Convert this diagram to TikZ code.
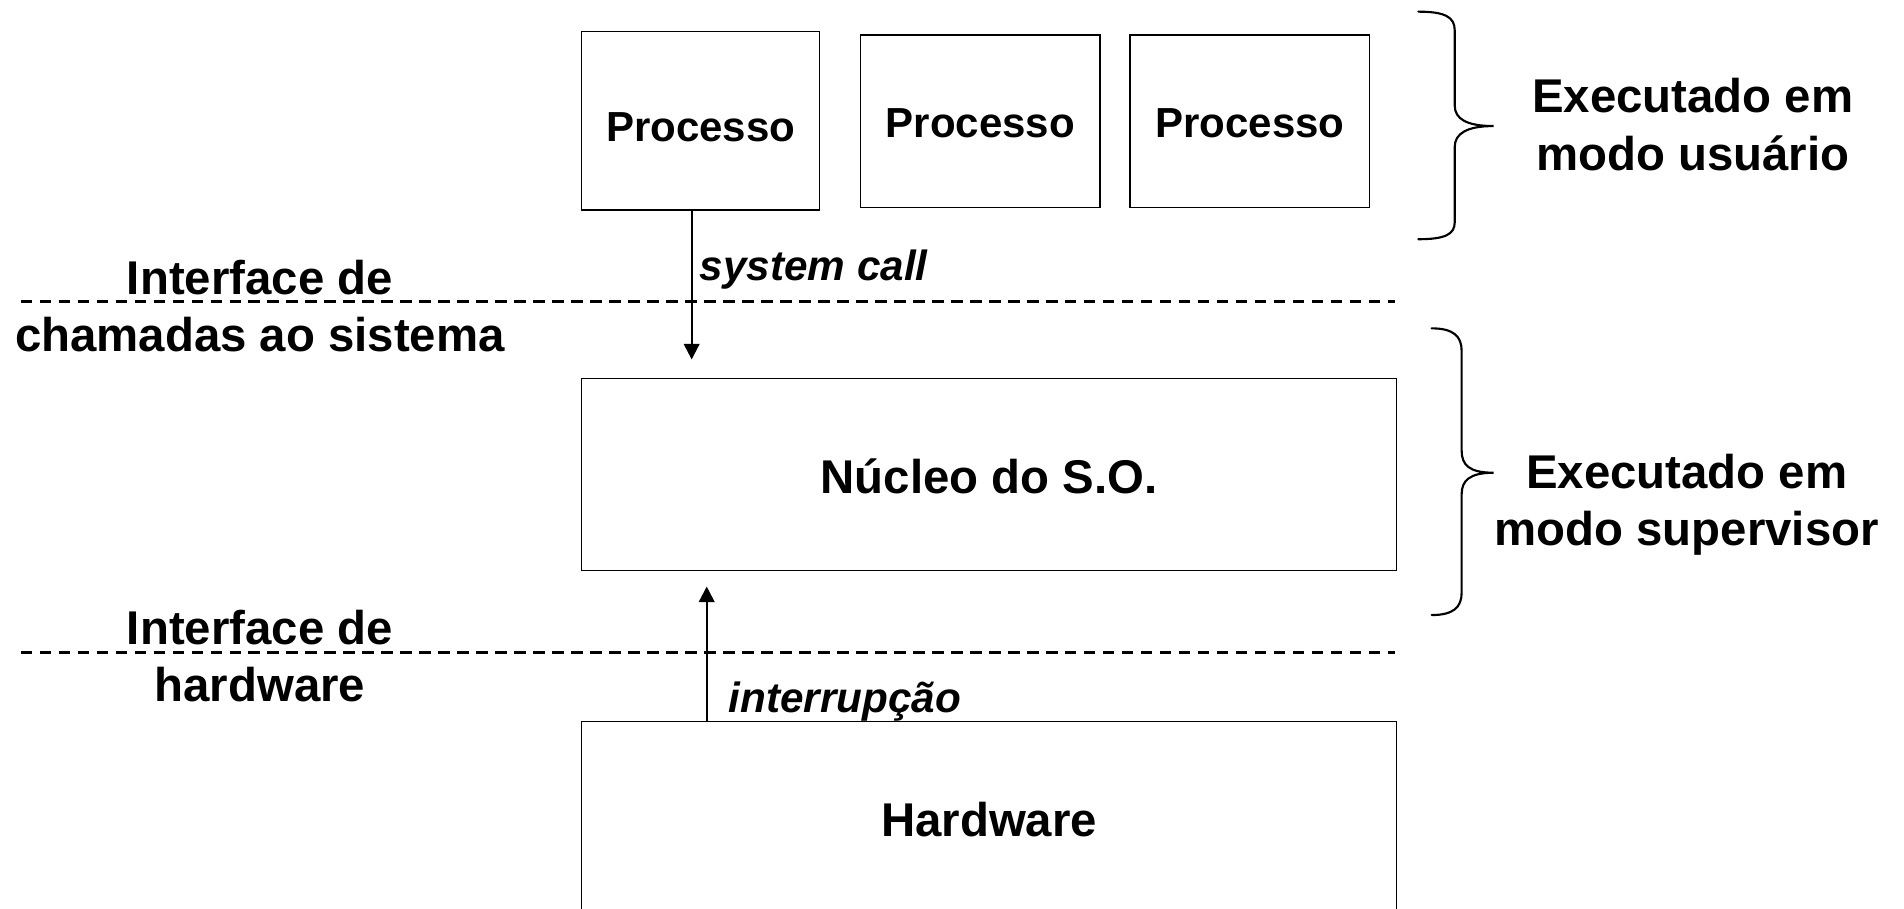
\documentclass[tikz,border=0pt]{standalone}
\usepackage{fontspec}
\setmainfont{Liberation Sans}
\usetikzlibrary{arrows.meta}
\begin{document}
\begin{tikzpicture}[x=0.02cm,y=-0.02cm,
  big/.style={font=\fontsize{22.2}{26.8}\selectfont\bfseries},
  small/.style={font=\fontsize{19.7}{24}\selectfont\bfseries},
  ital/.style={font=\fontsize{19.8}{24}\selectfont\bfseries\itshape, inner sep=0pt},
  procbox/.style={draw, line width=0.55pt, inner sep=0pt, small, text depth=0pt},
  bigbox/.style={draw, line width=0.55pt, inner sep=0pt, big, text depth=0pt},
  arr/.style={line width=1pt, -{Triangle[length=7.3pt,width=7.3pt]}},
  iface/.style={line width=1.35pt, dash pattern=on 5.4pt off 3.5pt},
  brace/.style={line width=1pt, line cap=round},
  lab/.style={big, align=center, inner sep=0pt}]
\useasboundingbox (0,0) rectangle (1568,748);

% process boxes
\node[procbox, minimum width=3.92cm, minimum height=2.94cm, text height=19.5pt] (p1) at (577,99.5) {Processo};
\node[procbox, minimum width=3.94cm, minimum height=2.84cm, text height=15pt] (p2) at (807.4,99.75) {Processo};
\node[procbox, minimum width=3.95cm, minimum height=2.84cm, text height=15pt] (p3) at (1029.3,99.75) {Processo};

% kernel and hardware
\node[bigbox, minimum width=13.42cm, minimum height=3.16cm, text height=17.4pt] (k) at (814.5,391) {Núcleo do S.O.};
\node[bigbox, minimum width=13.42cm, minimum height=3.314cm, text height=12.9pt] (hw) at (814.5,677.15) {Hardware};

% interface lines
\coordinate (d1a) at (17,248.4);
\coordinate (d1b) at (1149,248.4);
\coordinate (d2a) at (17,537);
\coordinate (d2b) at (1149,537);
\draw[iface] (d1a) -- (d1b);
\draw[iface] (d2a) -- (d2b);

% arrows
\coordinate (scEnd) at (569.6,296);
\coordinate (irEnd) at (582,483);
\draw[arr] (p1.south -| scEnd) -- (scEnd);
\draw[arr] (hw.north -| irEnd) -- (irEnd);
\node[ital, anchor=base west] (sc) at (576,230.6) {system call};
\node[ital, anchor=base west] (ir) at (599.8,586.9) {interrupção};

% left labels (base anchor = baseline of last line)
\node[lab, anchor=base] (l1) at (214,289.6) {Interface de\\chamadas ao sistema};
\node[lab, anchor=base] (l2) at (214,577.8) {Interface de\\hardware};

% braces
\draw[brace] (1168,9.6) .. controls (1190,9.6) and (1198,14) .. (1198,25) -- (1198,87)
  .. controls (1198,98) and (1208,103.8) .. (1230,103.8)
  .. controls (1208,103.8) and (1198,110) .. (1198,121) -- (1198,183)
  .. controls (1198,193) and (1190,197) .. (1168,197);
\draw[brace] (1179,270.4) .. controls (1197,270.4) and (1203.7,277) .. (1203.7,289) -- (1203.7,371)
  .. controls (1203.7,383) and (1210,389.3) .. (1230,389.3)
  .. controls (1210,389.3) and (1203.7,396) .. (1203.7,407) -- (1203.7,488)
  .. controls (1203.7,500) and (1197,506.5) .. (1179,506.5);

% right labels
\node[lab, anchor=base] (r1) at (1394,140) {Executado em\\modo usuário};
\node[lab, anchor=base] (r2) at (1389,449) {Executado em\\modo supervisor};
\end{tikzpicture}
\end{document}
